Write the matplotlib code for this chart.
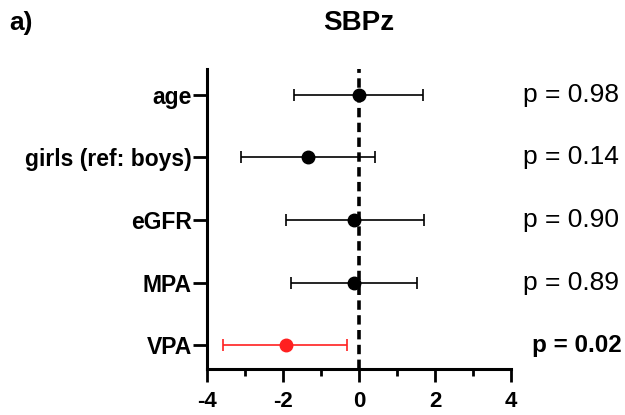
import matplotlib
matplotlib.use("Agg")
import matplotlib.pyplot as plt
import matplotlib.transforms as mtransforms

plt.rcParams['font.family'] = ['Liberation Sans', 'DejaVu Sans']
plt.rcParams['axes.unicode_minus'] = False

# forest plot values (top to bottom)
labels = ['age', 'girls (ref: boys)', 'eGFR', 'MPA', 'VPA']
estimates = [-0.01, -1.34, -0.12, -0.13, -1.93]
ci_low = [-1.71, -3.11, -1.93, -1.79, -3.57]
ci_high = [1.68, 0.41, 1.72, 1.53, -0.32]
p_text = ['p = 0.98', 'p = 0.14', 'p = 0.90', 'p = 0.89', 'p = 0.02']
significant = [False, False, False, False, True]

fig = plt.figure(figsize=(6.25, 4.15), dpi=100)
ax = fig.add_axes([0.331, 0.1108, 0.4866, 0.7229])

n = len(labels)
ypos = list(range(n, 0, -1))

# reference line at zero
ax.axvline(0, color='black', lw=2.6, ls=(0, (2.6, 1.5)), zorder=1)

for y, est, lo, hi, sig in zip(ypos, estimates, ci_low, ci_high, significant):
    col = '#ff2020' if sig else 'black'
    ax.errorbar(est, y, xerr=[[est - lo], [hi - est]], fmt='o', color=col,
                ms=9, elinewidth=1.2, capsize=4, capthick=1.2, zorder=3)

ax.set_xlim(-4, 4)
ax.set_ylim(0.62, n + 0.41)
ax.set_xticks([-4, -2, 0, 2, 4])
ax.set_xticks([-3, -1, 1, 3], minor=True)
ax.set_yticks(ypos)
ax.set_yticklabels(labels)

for s in ['top', 'right']:
    ax.spines[s].set_visible(False)
for s in ['left', 'bottom']:
    ax.spines[s].set_linewidth(2.2)

ax.tick_params(axis='y', length=10, width=2, pad=1, labelsize=16.5)
ax.tick_params(axis='x', which='major', length=9, width=2, pad=7, labelsize=16)
ax.tick_params(axis='x', which='minor', length=5, width=2)
for t in ax.get_xticklabels() + ax.get_yticklabels():
    t.set_fontweight('bold')

# p values at the right side
trans = mtransforms.blended_transform_factory(fig.transFigure, ax.transData)
for y, txt, sig in zip(ypos, p_text, significant):
    ax.text(0.99 if not sig else 0.995, y, txt, transform=trans, ha='right', va='center',
            fontsize=19 if not sig else 17.5,
            fontweight='bold' if sig else 'normal', clip_on=False)

ax.set_title('SBPz', fontsize=20, fontweight='bold', pad=28)
fig.text(0.014, 0.945, 'a)', fontsize=19, fontweight='bold', va='center')

fig.savefig('out.png', dpi=100)
